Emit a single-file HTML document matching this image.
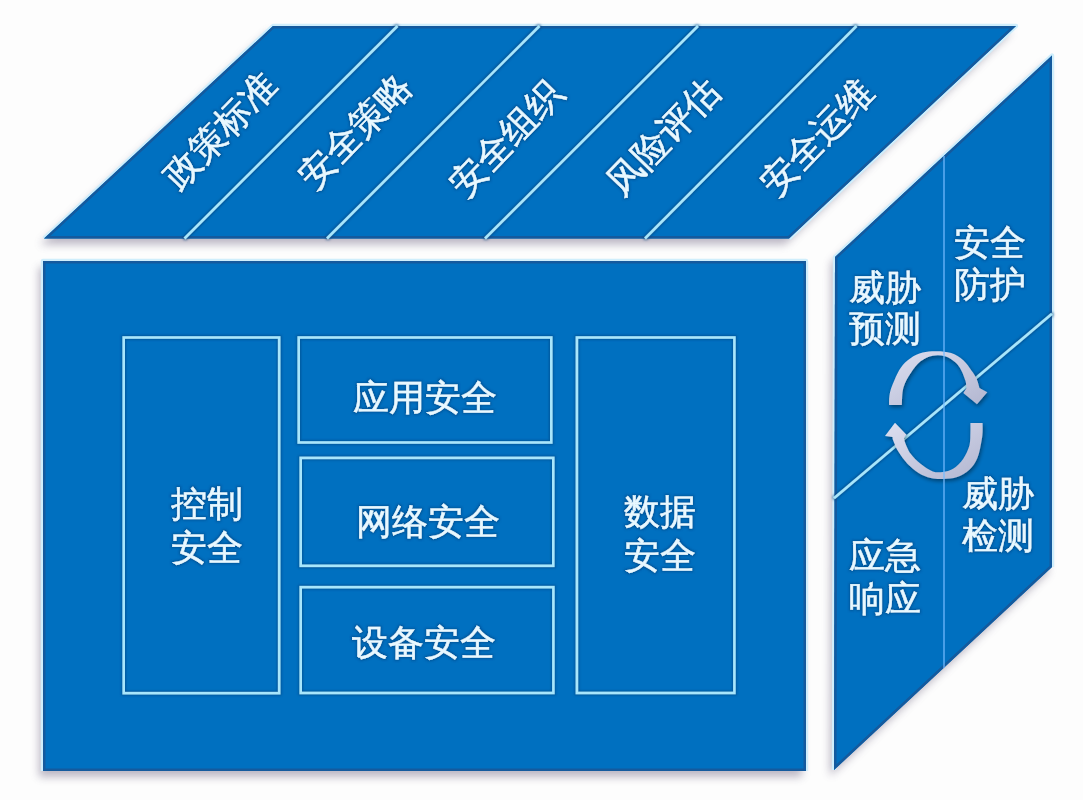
<!DOCTYPE html>
<html>
<head>
<meta charset="utf-8">
<style>
html,body{margin:0;padding:0;background:#fdfdfd;}
body{width:1083px;height:800px;overflow:hidden;position:relative;font-family:"Liberation Sans",sans-serif;}
svg{position:absolute;left:0;top:0;}
</style>
</head>
<body>
<svg width="1083" height="800" viewBox="0 0 1083 800">
  <defs>
    <filter id="sh" x="-10%" y="-10%" width="120%" height="120%">
      <feGaussianBlur stdDeviation="4.3"/>
    </filter>
    <filter id="lh" x="-5%" y="-5%" width="110%" height="110%">
      <feMorphology in="SourceAlpha" operator="dilate" radius="1" result="d"/>
      <feGaussianBlur in="d" stdDeviation="1.3" result="b"/>
      <feFlood flood-color="#003e7a" flood-opacity="0.55"/>
      <feComposite in2="b" operator="in"/>
      <feMerge><feMergeNode/><feMergeNode in="SourceGraphic"/></feMerge>
    </filter>
    <polygon id="ft" points="273,26 1016,26 789,238.5 44,238.5"/>
    <rect id="ff" x="43" y="261" width="763" height="510"/>
    <polygon id="fr" points="835,257 1052,55.5 1052,567 834,770"/>
    <clipPath id="ct"><use href="#ft"/></clipPath>
    <clipPath id="cf"><use href="#ff"/></clipPath>
    <clipPath id="cr"><use href="#fr"/></clipPath>
    <filter id="ash" x="-20%" y="-20%" width="140%" height="140%">
      <feGaussianBlur in="SourceAlpha" stdDeviation="2"/>
      <feOffset dx="1" dy="2"/>
      <feComponentTransfer><feFuncA type="linear" slope="0.45"/></feComponentTransfer>
      <feMerge><feMergeNode/><feMergeNode in="SourceGraphic"/></feMerge>
    </filter>
    <linearGradient id="arc" x1="0" y1="0" x2="1" y2="1">
      <stop offset="0" stop-color="#dcdff0"/>
      <stop offset="1" stop-color="#b2b6d0"/>
    </linearGradient>
  </defs>
  <!-- shadows -->
  <g fill="#5a5070" opacity="0.4" filter="url(#sh)" transform="translate(-4,6)">
    <use href="#ft"/><use href="#ff"/><use href="#fr"/>
  </g>
  <!-- glows -->
  <g stroke="#cfeefc" stroke-width="4.4" fill="none" stroke-linejoin="round">
    <polyline points="44,238.5 273,26 1016,26 789,238.5"/>
    <polyline points="43,771 43,261 806,261 806,771"/>
    <polyline points="834,770 835,257 1052,55.5 1052,567"/>
  </g>
  <!-- top face -->
  <use href="#ft" fill="#0070C0"/>
  <use href="#ft" fill="none" stroke="#145a9e" stroke-width="5" clip-path="url(#ct)"/>
  <g stroke="#a8e6fc" stroke-width="2.6" filter="url(#lh)">
    <line x1="397.5" y1="26" x2="184.5" y2="238.5"/>
    <line x1="539.5" y1="26" x2="327" y2="238.5"/>
    <line x1="698" y1="26" x2="485" y2="238.5"/>
    <line x1="856.5" y1="26" x2="645" y2="238.5"/>
  </g>
  <!-- front face -->
  <use href="#ff" fill="#0070C0"/>
  <use href="#ff" fill="none" stroke="#145a9e" stroke-width="5" clip-path="url(#cf)"/>
  <g fill="none" stroke="#a8e6fc" stroke-width="2.6" filter="url(#lh)">
    <rect x="123.7" y="337.5" width="155.5" height="355.7"/>
    <rect x="298.7" y="337.5" width="252.6" height="105"/>
    <rect x="300.7" y="457.9" width="252.6" height="107.9"/>
    <rect x="300.7" y="587.2" width="252.7" height="105.8"/>
    <rect x="576.9" y="337.5" width="157.5" height="355.5"/>
  </g>
  <!-- right face -->
  <use href="#fr" fill="#0070C0"/>
  <use href="#fr" fill="none" stroke="#145a9e" stroke-width="5" clip-path="url(#cr)"/>
  <line x1="834" y1="498.2" x2="1052" y2="313.8" stroke="#a8e6fc" stroke-width="2.7" filter="url(#lh)"/>

  <!-- cycle arrows -->
  <g fill="url(#arc)" filter="url(#ash)">
    <path d="M889.1,405.0 C889.1,403.5 888.9,399.2 889.4,396.0 C889.9,392.8 890.4,390.2 892.2,385.6 C894.0,381.0 897.2,373.0 900.3,368.4 C903.3,363.8 906.8,360.8 910.5,358.2 C914.2,355.6 918.3,353.8 922.7,352.6 C927.1,351.5 932.2,351.2 936.9,351.3 C941.6,351.4 946.7,351.6 951.1,353.1 C955.5,354.6 959.9,357.3 963.3,360.2 C966.7,363.1 969.2,367.3 971.4,370.4 C973.6,373.4 975.1,375.6 976.5,378.5 C977.9,381.4 979.0,386.4 979.5,388.0 L987.3,392.3 L977,404.3 L963.3,393 L966.5,388.0 C966.3,386.8 966.4,383.9 965.5,381.0 C964.6,378.1 963.0,373.5 961.3,370.4 C959.6,367.3 957.9,364.7 955.2,362.3 C952.5,359.9 948.7,357.3 945.0,356.2 C941.3,355.1 936.9,354.8 932.8,355.7 C928.7,356.6 924.3,358.4 920.6,361.3 C916.9,364.2 913.4,369.0 910.5,373.4 C907.6,377.8 904.9,382.4 903.4,387.7 C901.9,393.0 902.1,402.1 901.8,405.0 Z"/>
    <path d="M982.6,423.1 C982.6,424.6 982.8,429.1 982.6,432.0 C982.4,434.9 982.5,436.1 981.6,440.4 C980.8,444.7 979.5,452.8 977.5,457.7 C975.5,462.6 972.8,466.6 969.4,469.8 C966.0,473.0 961.6,475.5 957.2,477.0 C952.8,478.5 947.4,478.8 943.0,479.0 C938.6,479.2 934.9,479.0 930.8,478.0 C926.7,477.0 922.5,475.3 918.6,472.9 C914.7,470.5 910.8,467.4 907.4,463.8 C904.0,460.2 900.7,455.5 898.3,451.6 C895.9,447.7 894.2,442.8 893.2,440.4 C892.2,438.0 892.7,437.6 892.6,437.0 L885,436 L895,422.8 L906.5,434.8 L904.6,437.0 C904.6,437.6 903.4,437.6 904.4,440.4 C905.4,443.2 907.8,449.7 910.5,453.6 C913.2,457.5 916.9,460.8 920.6,463.8 C924.3,466.8 929.1,470.0 932.8,471.4 C936.5,472.8 939.6,472.3 943.0,471.9 C946.4,471.5 949.7,471.0 953.1,468.8 C956.5,466.6 960.6,462.6 963.3,458.7 C966.0,454.8 968.2,449.9 969.4,445.5 C970.6,441.1 970.2,435.7 970.4,432.0 C970.6,428.3 970.4,424.6 970.4,423.1 Z"/>
  </g>

  <line x1="944" y1="156" x2="944" y2="668" stroke="#74bcff" stroke-opacity="0.62" stroke-width="2"/>

  <!-- text -->
  <g font-family="Liberation Sans, sans-serif" font-size="36" fill="#e8f8ff" stroke="#e8f8ff" stroke-width="0.45" text-anchor="middle" filter="url(#lh)">
    <text x="220" y="142.7" transform="rotate(-46 220 129.7)">政策标准</text>
    <text x="355" y="143.5" transform="rotate(-46 355 130.5)">安全策略</text>
    <text x="505.5" y="150.7" transform="rotate(-46 505.5 137.7)">安全组织</text>
    <text x="663" y="149.2" transform="rotate(-46 663 136.2)">风险评估</text>
    <text x="817" y="150.3" transform="rotate(-46 817 137.3)">安全运维</text>

    <text x="425" y="410">应用安全</text>
    <text x="428" y="534">网络安全</text>
    <text x="424" y="655">设备安全</text>

    <text x="207" y="516">控制</text>
    <text x="207" y="560">安全</text>
    <text x="660" y="524">数据</text>
    <text x="660" y="568">安全</text>

    <text x="885" y="300">威胁</text>
    <text x="885" y="341">预测</text>
    <text x="990" y="255">安全</text>
    <text x="990" y="297">防护</text>
    <text x="998" y="506">威胁</text>
    <text x="998" y="548">检测</text>
    <text x="885" y="568">应急</text>
    <text x="885" y="611">响应</text>
  </g>
</svg>
</body>
</html>
